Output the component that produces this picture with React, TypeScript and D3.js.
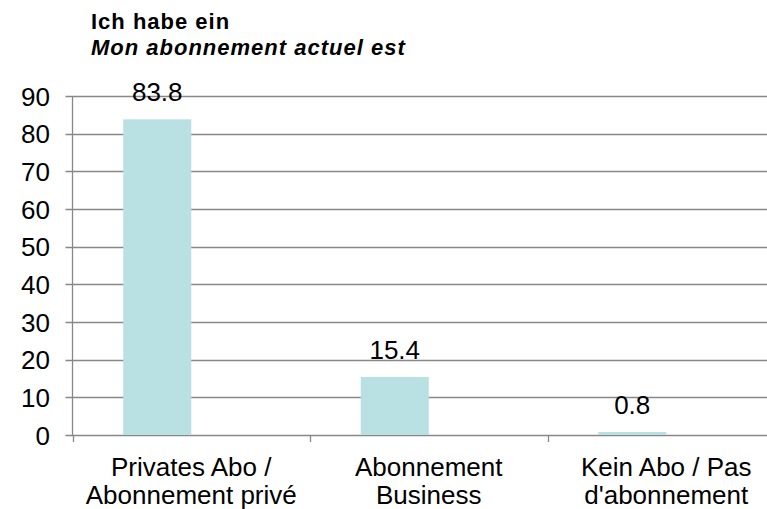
import React, { useRef, useEffect } from "react";
import * as d3 from "d3";

// data
const categories = [
  ["Privates Abo /", "Abonnement privé"],
  ["Abonnement", "Business"],
  ["Kein Abo / Pas", "d'abonnement"],
];
const seriesNames = ["Ich habe ein", "(leer)"];
const values = [83.8, 15.4, 0.8];
const yTicks = [0, 10, 20, 30, 40, 50, 60, 70, 80, 90];

const W = 767;
const H = 509;

const App = () => {
  const svgRef = useRef<SVGSVGElement>(null);

  useEffect(() => {
    const svg = d3.select(svgRef.current);
    svg.selectAll("*").remove();

    const left = 72.5;
    const right = 785;
    const top = 96;
    const bottom = 435;
    const font = "'Liberation Sans', Arial, sans-serif";
    const gridColor = "#888888";
    const fs = 26;

    const x = d3
      .scaleBand<number>()
      .domain(categories.map((_, i) => i))
      .range([left, right]);
    const xs = d3
      .scaleBand<string>()
      .domain(seriesNames)
      .range([0, x.bandwidth()])
      .paddingInner(0)
      .paddingOuter(0.746);
    const y = d3.scaleLinear().domain([0, 90]).range([bottom, top]);

    // title
    const title = svg
      .append("g")
      .attr("font-family", font)
      .attr("font-weight", "bold")
      .attr("font-size", 22)
      .attr("letter-spacing", 1)
      .attr("fill", "#000");
    title.append("text").attr("x", 91).attr("y", 28.5).text("Ich habe ein");
    title.append("text").attr("x", 91).attr("y", 55).attr("font-style", "italic").text("Mon abonnement actuel est");

    // gridlines
    svg
      .append("g")
      .selectAll("line")
      .data(yTicks)
      .join("line")
      .attr("x1", left - 7)
      .attr("x2", W)
      .attr("y1", (d) => Math.round(y(d)) + 0.5)
      .attr("y2", (d) => Math.round(y(d)) + 0.5)
      .attr("stroke", gridColor)
      .attr("stroke-width", 1.3);

    // y tick labels
    svg
      .append("g")
      .selectAll("text")
      .data(yTicks)
      .join("text")
      .attr("x", 50)
      .attr("y", (d) => y(d) + 9.5)
      .attr("text-anchor", "end")
      .attr("font-family", font)
      .attr("font-size", fs)
      .attr("fill", "#000")
      .text((d) => d);

    // y axis line
    svg
      .append("line")
      .attr("x1", left)
      .attr("x2", left)
      .attr("y1", top)
      .attr("y2", bottom)
      .attr("stroke", gridColor)
      .attr("stroke-width", 1.3);

    // x ticks at band edges
    const edges = categories.map((_, i) => x(i)!).concat([right]);
    svg
      .append("g")
      .selectAll("line")
      .data(edges)
      .join("line")
      .attr("x1", (d) => Math.round(d) + 0.5)
      .attr("x2", (d) => Math.round(d) + 0.5)
      .attr("y1", bottom)
      .attr("y2", bottom + 7)
      .attr("stroke", gridColor)
      .attr("stroke-width", 1.3);

    // bars (first series only; second is empty)
    svg
      .append("g")
      .selectAll("rect")
      .data(values)
      .join("rect")
      .attr("x", (_, i) => x(i)! + xs(seriesNames[0])!)
      .attr("width", xs.bandwidth())
      .attr("y", (d) => y(d))
      .attr("height", (d) => bottom - y(d))
      .attr("fill", "#b9e0e3");

    // value labels
    svg
      .append("g")
      .selectAll("text")
      .data(values)
      .join("text")
      .attr("x", (_, i) => x(i)! + xs(seriesNames[0])! + xs.bandwidth() / 2)
      .attr("y", (d) => y(d) - 18)
      .attr("text-anchor", "middle")
      .attr("font-family", font)
      .attr("font-size", fs)
      .attr("fill", "#000")
      .text((d) => d.toFixed(1));

    // category labels
    const cat = svg
      .append("g")
      .selectAll("text")
      .data(categories)
      .join("text")
      .attr("text-anchor", "middle")
      .attr("font-family", font)
      .attr("font-size", fs)
      .attr("fill", "#000");
    cat
      .selectAll("tspan")
      .data((d, i) => d.map((s) => ({ s, i })))
      .join("tspan")
      .attr("x", (d) => x(d.i)! + x.bandwidth() / 2)
      .attr("y", (_, j) => 476 + j * 28)
      .text((d) => d.s);
  }, []);

  return (
    <svg
      ref={svgRef}
      width={W}
      height={H}
      style={{ position: "absolute", left: 0, top: 0, background: "#fff" }}
    ></svg>
  );
};

export default App;
